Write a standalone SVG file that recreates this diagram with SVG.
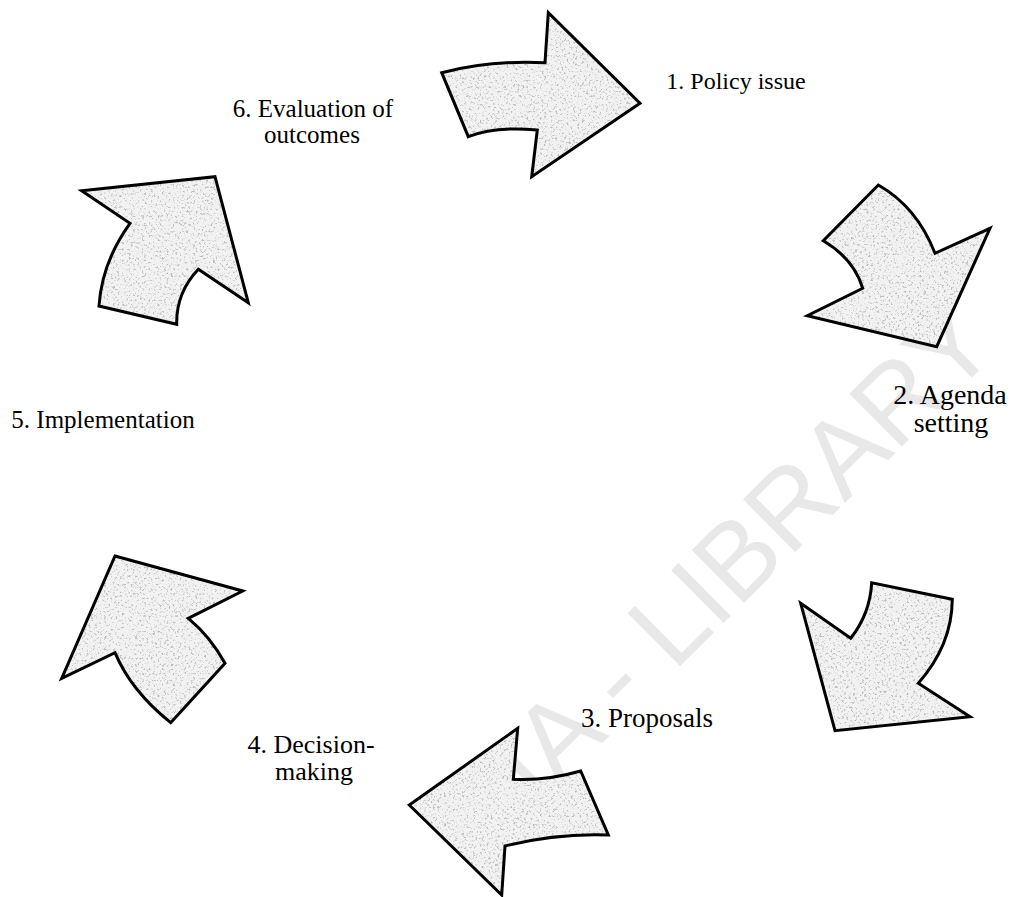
<svg xmlns="http://www.w3.org/2000/svg" width="1013" height="897" viewBox="0 0 1013 897">
  <style>
    .label { font-family: "Liberation Serif", "Times New Roman", serif; fill: #000; text-anchor: middle; }
    .body { fill: #f2f2f2; filter: url(#grain); }
    .edge { fill: none; stroke: #000; stroke-width: 3; stroke-linejoin: miter; }
    .mark { font-family: "Liberation Sans", Arial, sans-serif; font-size: 108px; fill: #e8e8e8; }
  </style>
  <defs>
    <!-- speckled grey texture for the arrow bodies -->
    <filter id="grain" x="0" y="0" width="100%" height="100%">
      <feTurbulence type="fractalNoise" baseFrequency="0.45" numOctaves="3" seed="7" result="noise"/>
      <feColorMatrix in="noise" type="matrix" values="0 0 0 0 0.5  0 0 0 0 0.5  0 0 0 0 0.5  5 0 0 0 -2.75" result="dots"/>
      <feComposite in="dots" in2="SourceGraphic" operator="in" result="speckle"/>
      <feMerge>
        <feMergeNode in="SourceGraphic"/>
        <feMergeNode in="speckle"/>
      </feMerge>
    </filter>
    <path id="a1" d="M441.7,72.7 Q490,60 545,62.7 L548.3,12.7 L640,103.3 L531.7,176.7 L537.3,130 Q495,126 468.3,136.7 Z"/>
    <path id="a2" d="M878.3,185 Q917,207 935,253.3 L990,228.3 L936.7,346.7 L807.3,315.7 L862.7,288.3 Q854,259 823.3,240.7 Z"/>
    <path id="a3" d="M800.7,603.3 L850.7,638.3 Q870,614 871.7,582.7 L952.3,599.3 Q952,645 918.3,683.3 L970,716.7 L835,730.7 Z"/>
    <path id="a4" d="M409.3,805 L517.7,728.3 L513.3,779.3 Q546,781 580.7,771 L608.3,835 Q557,833 505,846 L501.7,895 Z"/>
    <path id="a5" d="M115,556 L242.7,591 L188.3,618.3 Q210,636 225,663.3 L170.7,722.7 Q131,691 115,652.7 L61.7,678.3 Z"/>
    <path id="a6" d="M81.7,190.7 L215,176.7 L248.3,302.7 L198.3,269.3 Q176,293 176.7,324.3 L99,306 Q102,262 130,223.3 Z"/>
  </defs>

  <rect width="1013" height="897" fill="#fff"/>

  <!-- faint library stamp running diagonally -->
  <text class="mark" transform="translate(486,858) rotate(-44.7)">SIA - LIBRARY</text>

  <g id="connectors">
    <g id="arrow-1"><use href="#a1" class="body"/><use href="#a1" class="edge"/></g>
    <g id="arrow-2"><use href="#a2" class="body"/><use href="#a2" class="edge"/></g>
    <g id="arrow-3"><use href="#a3" class="body"/><use href="#a3" class="edge"/></g>
    <g id="arrow-4"><use href="#a4" class="body"/><use href="#a4" class="edge"/></g>
    <g id="arrow-5"><use href="#a5" class="body"/><use href="#a5" class="edge"/></g>
    <g id="arrow-6"><use href="#a6" class="body"/><use href="#a6" class="edge"/></g>
  </g>

  <g id="policy-issue">
    <text class="label" x="736" y="89" font-size="24">1. Policy issue</text>
  </g>
  <g id="agenda-setting">
    <text class="label" x="950" y="404" font-size="28">2. Agenda</text>
    <text class="label" x="951" y="432" font-size="28">setting</text>
  </g>
  <g id="proposals">
    <text class="label" x="647" y="727" font-size="27">3. Proposals</text>
  </g>
  <g id="decision-making">
    <text class="label" x="311" y="753" font-size="26">4. Decision-</text>
    <text class="label" x="314" y="780" font-size="26">making</text>
  </g>
  <g id="implementation">
    <text class="label" x="103" y="428" font-size="25">5. Implementation</text>
  </g>
  <g id="evaluation">
    <text class="label" x="313" y="117" font-size="25">6. Evaluation of</text>
    <text class="label" x="312" y="143" font-size="25">outcomes</text>
  </g>
</svg>
